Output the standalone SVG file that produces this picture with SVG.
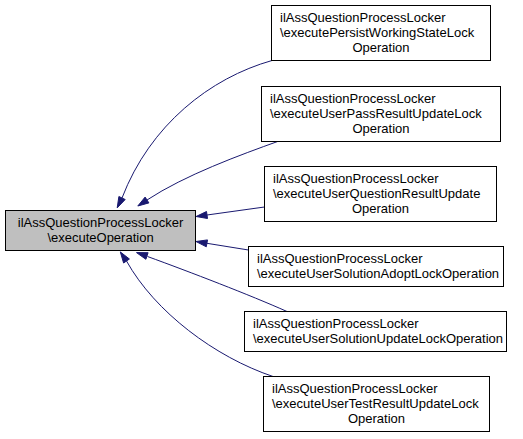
<svg xmlns="http://www.w3.org/2000/svg" width="523" height="439" viewBox="0 0 523 439">
<style>
.node rect{fill:#ffffff;stroke:#000000;stroke-width:1}
#main rect{fill:#bfbfbf}
text{font-family:"Liberation Sans",Arial,Helvetica,sans-serif;font-size:13px;fill:#000000}
.c{text-anchor:middle}
.edge path{fill:none;stroke:#191970;stroke-width:1}
.edge polygon{fill:#191970;stroke:#191970;stroke-width:1}
</style>
<rect width="523" height="439" fill="#ffffff"/>
<g id="connectors" class="edge">
<path d="M272,60.5 C210,78 150,125 122,198"/>
<polygon points="125.2,199.5 117.2,207.9 118.9,196.5"/>
<path d="M279,141 C240,155 185,175 147,200"/>
<polygon points="148.9,202.9 137.8,206 145.1,197.1"/>
<path d="M264.5,207 L207,215"/>
<polygon points="207.5,218.5 196.1,216.5 206.5,211.5"/>
<path d="M248.5,250 L206.9,243.3"/>
<polygon points="206.3,246.8 196,241.5 207.5,239.9"/>
<path d="M287,311.5 C250,295 190,272 147.5,256.5"/>
<polygon points="145.9,259.3 136.5,252.6 148.1,252.7"/>
<path d="M273,376.5 C215,357 155,312 126.5,261"/>
<polygon points="123.6,263 120.3,251.9 129.4,259"/>
</g>
<g id="main" class="node">
<rect x="5.5" y="210.5" width="190" height="40"/>
<text class="c" x="100.5" y="227">ilAssQuestionProcessLocker</text>
<text class="c" x="100.5" y="242">\executeOperation</text>
</g>
<g id="n1" class="node">
<rect x="271.5" y="5.5" width="219" height="55"/>
<text x="280" y="21.5">ilAssQuestionProcessLocker</text>
<text x="280" y="36.5">\executePersistWorkingStateLock</text>
<text class="c" x="381" y="51.5">Operation</text>
</g>
<g id="n2" class="node">
<rect x="261.5" y="86.5" width="239" height="55"/>
<text x="270" y="102.5">ilAssQuestionProcessLocker</text>
<text x="270" y="117.5">\executeUserPassResultUpdateLock</text>
<text class="c" x="381" y="132.5">Operation</text>
</g>
<g id="n3" class="node">
<rect x="264.5" y="166.5" width="232" height="55"/>
<text x="273" y="182.5">ilAssQuestionProcessLocker</text>
<text x="273" y="197.5">\executeUserQuestionResultUpdate</text>
<text class="c" x="380.5" y="212.5">Operation</text>
</g>
<g id="n4" class="node">
<rect x="248.5" y="246.5" width="255" height="40"/>
<text x="257" y="263">ilAssQuestionProcessLocker</text>
<text x="257" y="278">\executeUserSolutionAdoptLockOperation</text>
</g>
<g id="n5" class="node">
<rect x="244.5" y="311.5" width="262" height="40"/>
<text x="253" y="328">ilAssQuestionProcessLocker</text>
<text x="253" y="343">\executeUserSolutionUpdateLockOperation</text>
</g>
<g id="n6" class="node">
<rect x="263.5" y="376.5" width="226" height="55"/>
<text x="272" y="392.5">ilAssQuestionProcessLocker</text>
<text x="272" y="407.5">\executeUserTestResultUpdateLock</text>
<text class="c" x="376.5" y="422.5">Operation</text>
</g>
</svg>
